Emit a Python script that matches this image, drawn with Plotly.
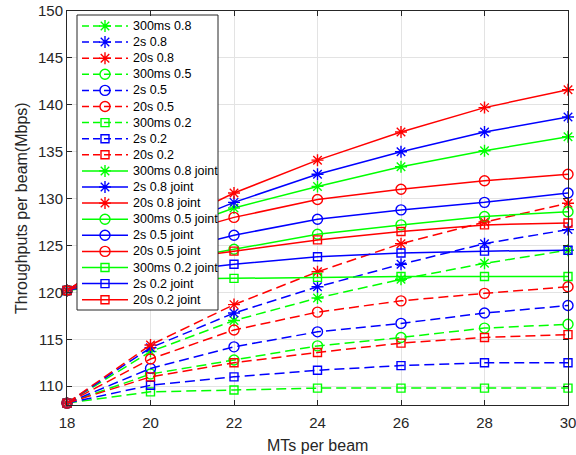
import plotly.graph_objects as go

# ---- data ----
mts = [18, 20, 22, 24, 26, 28, 30]

names = ["300ms 0.8", "2s 0.8", "20s 0.8",
         "300ms 0.5", "2s 0.5", "20s 0.5",
         "300ms 0.2", "2s 0.2", "20s 0.2",
         "300ms 0.8 joint", "2s 0.8 joint", "20s 0.8 joint",
         "300ms 0.5 joint", "2s 0.5 joint", "20s 0.5 joint",
         "300ms 0.2 joint", "2s 0.2 joint", "20s 0.2 joint"]

v_300ms_08 = [108.2, 113.7, 117.0, 119.4, 121.4, 123.1, 124.5]
v_2s_08 = [108.2, 114.1, 117.8, 120.6, 123.0, 125.2, 126.7]
v_20s_08 = [108.2, 114.4, 118.7, 122.2, 125.2, 127.5, 129.5]
v_300ms_05 = [108.2, 111.3, 112.8, 114.3, 115.2, 116.2, 116.6]
v_2s_05 = [108.2, 111.9, 114.2, 115.8, 116.7, 117.8, 118.6]
v_20s_05 = [108.2, 112.9, 116.0, 117.9, 119.1, 119.9, 120.6]
v_300ms_02 = [108.2, 109.4, 109.6, 109.8, 109.8, 109.8, 109.8]
v_2s_02 = [108.2, 110.1, 111.0, 111.7, 112.2, 112.5, 112.5]
v_20s_02 = [108.2, 111.0, 112.5, 113.6, 114.6, 115.2, 115.5]

j_300ms_08 = [120.2, 125.8, 129.0, 131.3, 133.4, 135.1, 136.6]
j_2s_08 = [120.2, 126.0, 129.6, 132.6, 135.0, 137.1, 138.7]
j_20s_08 = [120.2, 126.3, 130.6, 134.1, 137.1, 139.7, 141.6]
j_300ms_05 = [120.2, 123.0, 124.6, 126.2, 127.2, 128.1, 128.6]
j_2s_05 = [120.2, 123.9, 126.1, 127.8, 128.8, 129.6, 130.6]
j_20s_05 = [120.2, 125.5, 128.0, 129.9, 131.0, 131.9, 132.6]
j_300ms_02 = [120.2, 121.4, 121.5, 121.6, 121.7, 121.7, 121.7]
j_2s_02 = [120.2, 122.0, 123.0, 123.8, 124.2, 124.4, 124.5]
j_20s_02 = [120.2, 123.2, 124.4, 125.6, 126.5, 127.2, 127.4]

values = [v_300ms_08, v_2s_08, v_20s_08, v_300ms_05, v_2s_05, v_20s_05,
          v_300ms_02, v_2s_02, v_20s_02,
          j_300ms_08, j_2s_08, j_20s_08, j_300ms_05, j_2s_05, j_20s_05,
          j_300ms_02, j_2s_02, j_20s_02]

x_ticks = [18, 20, 22, 24, 26, 28, 30]
y_ticks = [110, 115, 120, 125, 130, 135, 140, 145, 150]

x_title = "MTs per beam"
y_title = "Throughputs per beam(Mbps)"

# ---- styles ----
colors = ["#00ff00", "#0000ff", "#ff0000"]
symbols = ["asterisk-open", "circle-open", "square-open"]
sizes = [10, 10, 8]
DASH = "10px,5px"
FONT = "Liberation Sans, Arial, Helvetica, sans-serif"
AX = "#262626"

W, H = 576, 455
L, R, T, B = 67, 8, 11, 50
PW, PH = W - L - R, H - T - B

fig = go.Figure()

styles = []
for i in range(18):
    c = colors[i % 3]
    s = symbols[(i % 9) // 3]
    sz = sizes[(i % 9) // 3]
    d = DASH if i < 9 else "solid"
    styles.append((c, s, sz, d))

for name, vals, (c, s, sz, d) in zip(names, values, styles):
    fig.add_trace(go.Scatter(
        x=mts, y=vals, mode="lines+markers", name=name,
        line=dict(color=c, width=1.5, dash=d),
        marker=dict(symbol=s, size=sz, color=c, line=dict(color=c, width=1.4)),
        showlegend=False, cliponaxis=False))

# ---- manual legend (MATLAB style) on pixel overlay axes ----
box_x0, box_x1, box_y0, box_y1 = 10, 151, 4, 299
fig.add_trace(go.Scatter(
    x=[box_x0, box_x1, box_x1, box_x0, box_x0],
    y=[box_y0, box_y0, box_y1, box_y1, box_y0],
    mode="lines", fill="toself", fillcolor="white",
    line=dict(color=AX, width=1), xaxis="x2", yaxis="y2",
    showlegend=False, hoverinfo="skip"))

annotations = []
for i, (name, (c, s, sz, d)) in enumerate(zip(names, styles)):
    yc = 15 + 16.1 * i
    fig.add_trace(go.Scatter(
        x=[15, 61], y=[yc, yc], mode="lines",
        line=dict(color=c, width=1.5, dash=("7px,4px" if i < 9 else "solid")),
        xaxis="x2", yaxis="y2", showlegend=False, hoverinfo="skip"))
    fig.add_trace(go.Scatter(
        x=[38], y=[yc], mode="markers",
        marker=dict(symbol=s, size=sz, color=c, line=dict(color=c, width=1.4)),
        xaxis="x2", yaxis="y2", showlegend=False, hoverinfo="skip"))
    annotations.append(dict(
        x=64, y=yc, xref="x2", yref="y2", text=name, showarrow=False,
        xanchor="left", yanchor="middle",
        font=dict(family=FONT, size=12.5, color="black")))

annotations.append(dict(
    x=0.5, y=-41 / PH, xref="paper", yref="paper", text=x_title, showarrow=False,
    xanchor="center", yanchor="middle", font=dict(family=FONT, size=16, color=AX)))
annotations.append(dict(
    x=(21 - L) / PW, y=0.5, xref="paper", yref="paper", text=y_title, showarrow=False,
    textangle=-90, xanchor="center", yanchor="middle",
    font=dict(family=FONT, size=16, color=AX)))

fig.update_layout(
    width=W, height=H,
    margin=dict(l=L, r=R, t=T, b=B, pad=0, autoexpand=False),
    paper_bgcolor="white", plot_bgcolor="white",
    font=dict(family=FONT, size=15, color=AX),
    annotations=annotations,
    xaxis=dict(
        range=[18, 30], tickvals=x_ticks, ticks="inside", ticklen=5,
        tickcolor=AX, showline=True, linecolor=AX, linewidth=1, mirror="ticks",
        showgrid=True, gridcolor="#e3e3e3", gridwidth=1, zeroline=False,
        tickfont=dict(size=15, color=AX), automargin=False,
        ticklabeloverflow="allow", ticklabelstandoff=4),
    yaxis=dict(
        range=[108, 150], tickvals=y_ticks, ticks="inside", ticklen=5,
        tickcolor=AX, showline=True, linecolor=AX, linewidth=1, mirror="ticks",
        showgrid=True, gridcolor="#e3e3e3", gridwidth=1, zeroline=False,
        tickfont=dict(size=15, color=AX), automargin=False,
        ticklabeloverflow="allow"),
    xaxis2=dict(overlaying="x", anchor="y2", range=[0, PW], visible=False,
                fixedrange=True, automargin=False),
    yaxis2=dict(overlaying="y", anchor="x2", range=[PH, 0], visible=False,
                fixedrange=True, automargin=False),
)

fig.write_html("out.html", config={"displayModeBar": False},
               post_script="document.body.style.margin='0px';document.body.style.overflow='hidden';")
